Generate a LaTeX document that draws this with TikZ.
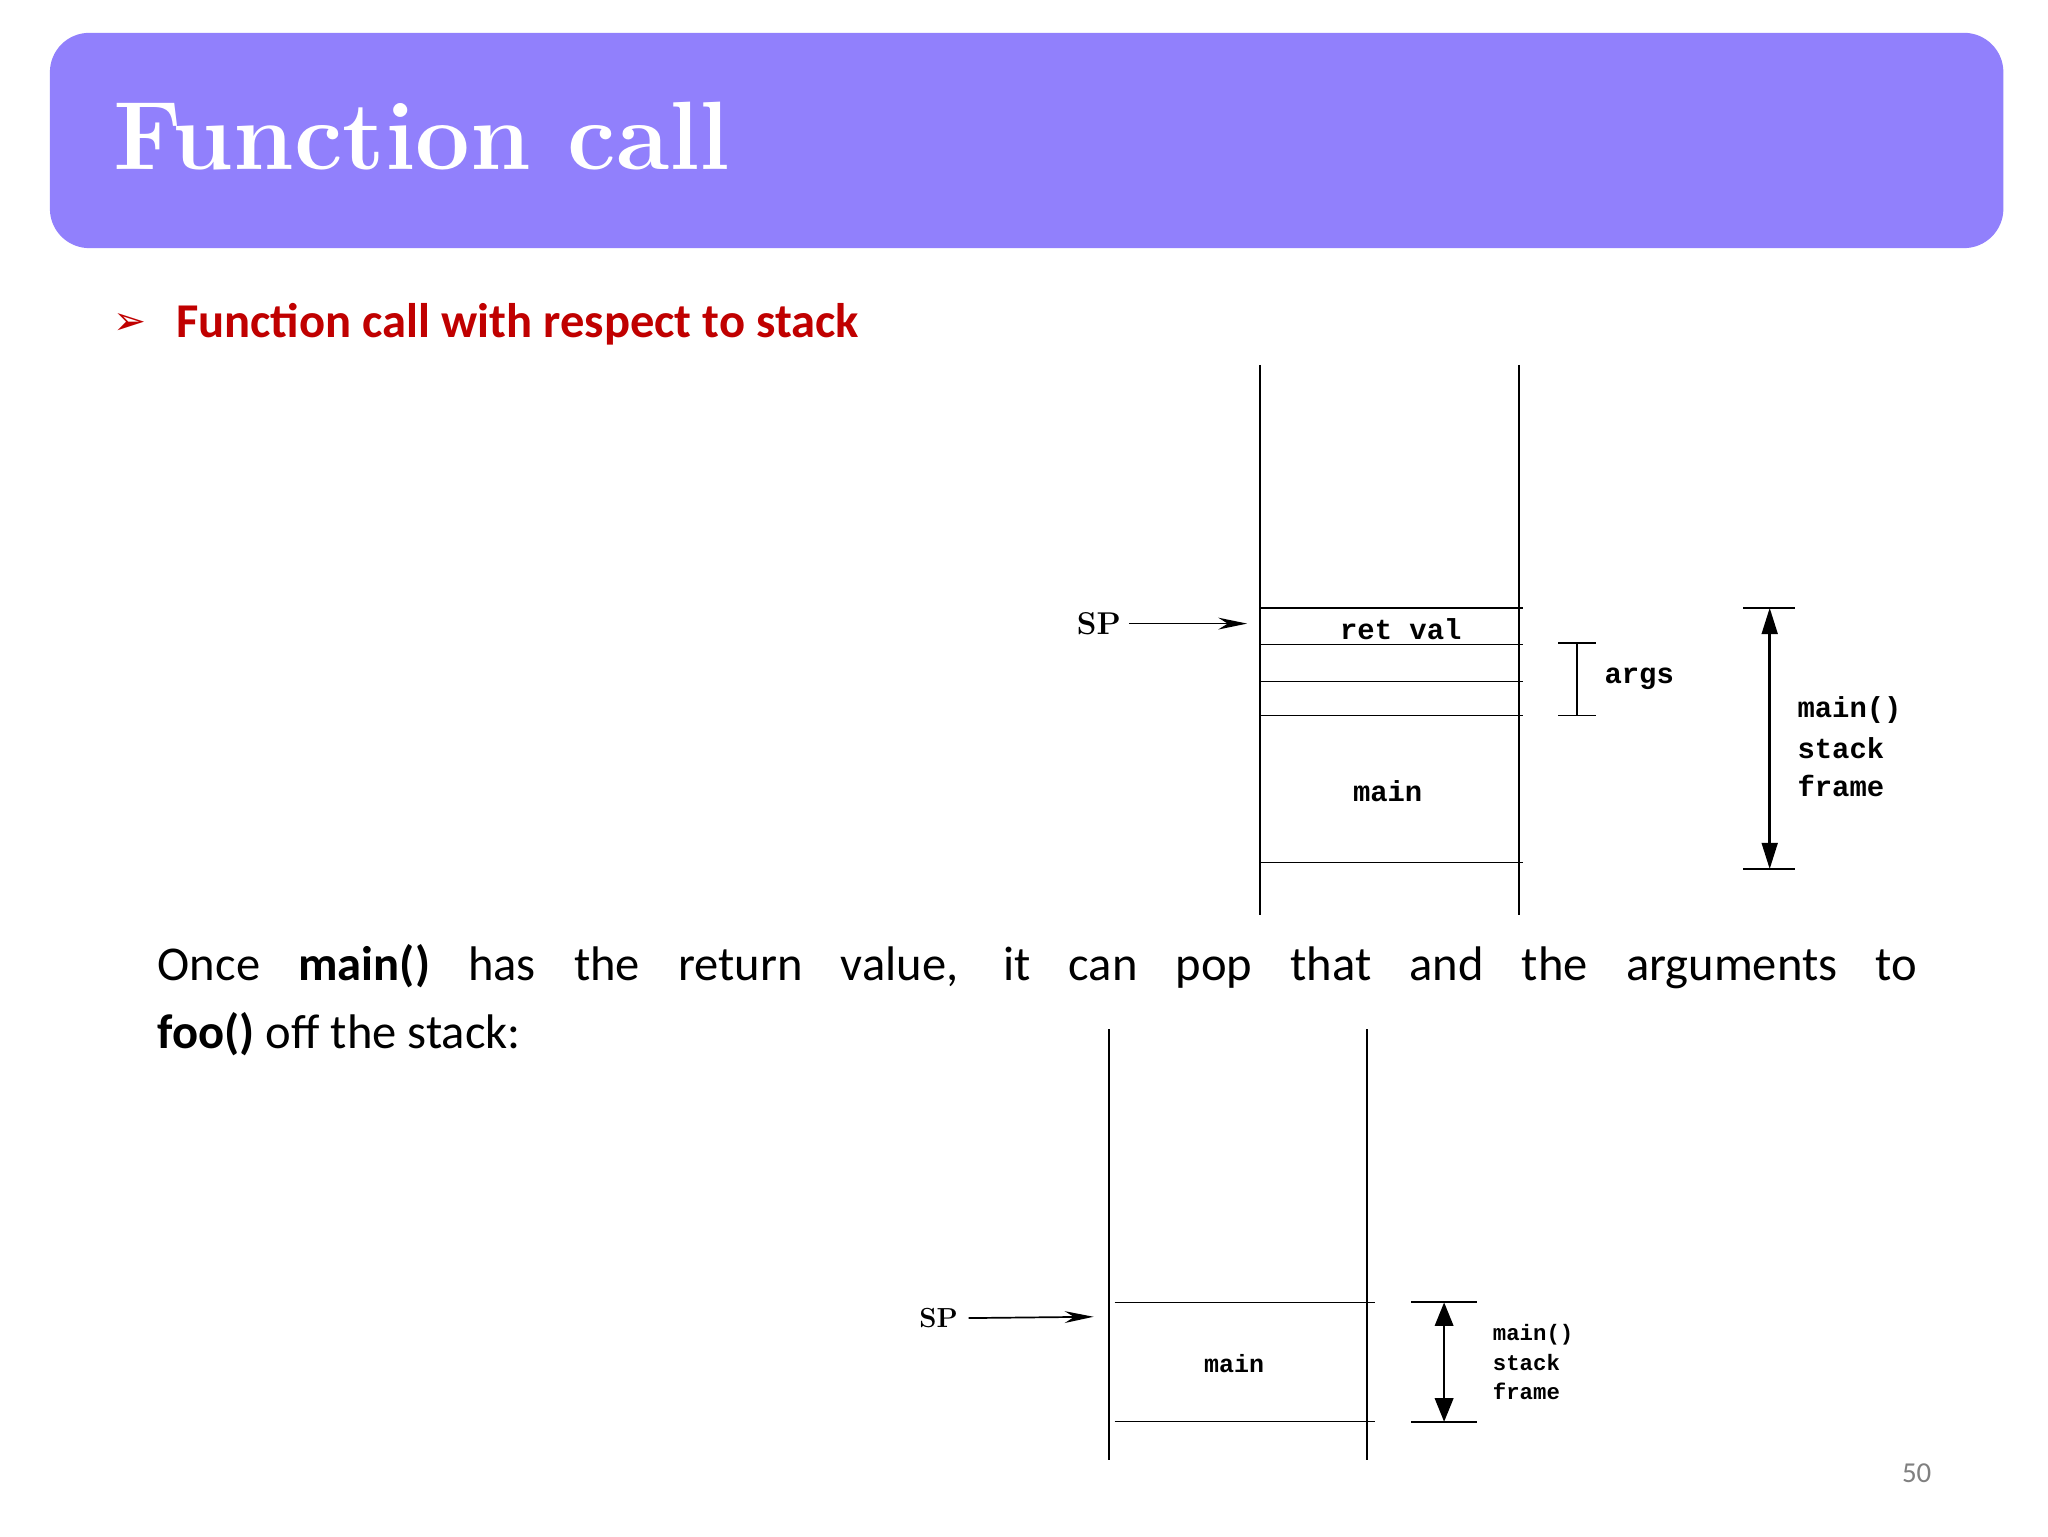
\documentclass[tikz,border=0pt]{standalone}
\usepackage{fontspec}
\setsansfont{Carlito}
\newfontfamily\monob{Liberation Mono}
\newfontfamily\djvfont{DejaVu Sans}
\usetikzlibrary{arrows.meta}
\definecolor{hdr}{HTML}{9180FC}
\definecolor{red1}{HTML}{C00000}
\tikzset{ln/.style={line width=1.3pt},
 mono/.style={font=\monob\bfseries\fontsize{22}{24}\selectfont,inner sep=0pt},
 monos/.style={font=\monob\bfseries\fontsize{17}{19}\selectfont,inner sep=0pt,anchor=west},
 spl/.style={font=\rmfamily\bfseries\fontsize{24}{26}\selectfont,inner sep=0pt},
 arr/.style={ln,-{Stealth[length=22pt,width=9pt]}},
 darr/.style={line width=2pt,{Triangle[length=20pt,width=12pt]}-{Triangle[length=20pt,width=12pt]}}}
\begin{document}
\begin{tikzpicture}[x=1pt,y=-1pt]
\useasboundingbox (0,0) rectangle (1560,1170);
\fill[white] (0,0) rectangle (1560,1170);
\fill[hdr,rounded corners=30pt] (38,25) rectangle (1526,189);
\node[anchor=base west,text=white,inner sep=0pt,font=\rmfamily\bfseries\fontsize{74}{80}\selectfont] (title) at (86,129) {Function call};
\node[anchor=base west,text=red1,inner sep=0pt,font=\djvfont\fontsize{30}{32}\selectfont] (bul) at (86,255) {➢};
\node[anchor=base west,text=red1,inner sep=0pt,font=\sffamily\bfseries\fontsize{37}{40}\selectfont] (sub) at (134,257) {Function call with respect to stack};
% stack 1
\draw[ln] (960,278) -- (960,697);
\draw[ln] (1157,278) -- (1157,697);
\foreach \y in {463,491,519,545,657} \draw[line width=1pt] (960,\y) -- (1160,\y);
\node[mono] (rv) at (1067,479) {ret val};
\node[mono] (m1) at (1057,603) {main};
\node[spl] (sp1) at (837,475) {SP};
\draw[arr] (sp1.east) ++(6,0) coordinate (a1) -- (950,475) coordinate (b1);
\draw[ln] (1201,490) -- (1201,545);
\draw[ln] (1187,490) -- (1216,490) (1187,545) -- (1216,545);
\node[mono,anchor=west] (args) at (1222,517) {args};
\draw[ln] (1328,463) -- (1367,463) (1328,662) -- (1367,662);
\draw[darr] (1348,463) -- (1348,662);
\node[mono,anchor=west] (f1a) at (1369,541) {main()};
\node[mono,anchor=west] (f1b) at (1369,570) {stack};
\node[mono,anchor=west] (f1c) at (1369,599) {frame};
% paragraph
\node[anchor=base west,inner sep=0pt,font=\sffamily\fontsize{37}{40}\selectfont] (p1) at (120,747) {\makebox[1340pt][s]{Once \textbf{main()} has the return value, it can pop that and the arguments to}};
\node[anchor=base west,inner sep=0pt,font=\sffamily\fontsize{37}{40}\selectfont] (p2) at (120,799) {\textbf{foo()} off the stack:};
% stack 2
\draw[ln] (845,784) -- (845,1112);
\draw[ln] (1041,784) -- (1041,1112);
\foreach \y in {992,1083} \draw[line width=1pt] (849,\y) -- (1047,\y);
\node[mono,font=\monob\bfseries\fontsize{19}{21}\selectfont] (m2) at (940,1039) {main};
\node[spl,font=\rmfamily\bfseries\fontsize{21}{23}\selectfont] (sp2) at (715,1004) {SP};
\draw[arr] (sp2.east) ++(8,0) coordinate (a2) -- (833,1003) coordinate (b2);
\draw[ln] (1075,992) -- (1125,992) (1075,1083) -- (1125,1083);
\draw[line width=2pt,{Triangle[length=18pt,width=14pt]}-{Triangle[length=18pt,width=14pt]}] (1100,992) -- (1100,1083);
\node[monos] (f2a) at (1137,1017) {main()};
\node[monos] (f2b) at (1137,1038) {stack};
\node[monos] (f2c) at (1137,1060) {frame};
\node[font=\sffamily\fontsize{22}{24}\selectfont,text=gray,inner sep=0pt] (pg) at (1460,1122) {50};
\end{tikzpicture}
\end{document}
